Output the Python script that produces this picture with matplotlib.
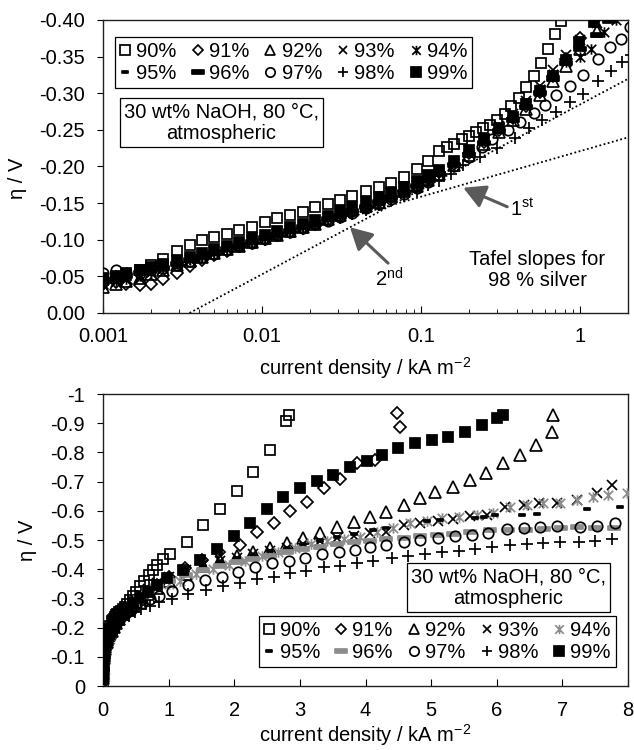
import matplotlib
matplotlib.use("Agg")
import matplotlib.pyplot as plt
from matplotlib.path import Path
from matplotlib.lines import Line2D
from matplotlib.ticker import FuncFormatter, LogLocator, NullFormatter, MultipleLocator

plt.rcParams['font.family'] = ['Liberation Sans', 'DejaVu Sans']
plt.rcParams['axes.unicode_minus'] = False
plt.rcParams['mathtext.fontset'] = 'custom'
plt.rcParams['mathtext.rm'] = 'Liberation Sans'
plt.rcParams['mathtext.default'] = 'regular'
FS = 14.5

labels = ["90%", "91%", "92%", "93%", "94%", "95%", "96%", "97%", "98%", "99%"]

# current density / kA m-2 -- shared log-spaced steps of the low current range
j_low = [0.0004, 0.0007, 0.001, 0.0012, 0.0014, 0.0017, 0.002, 0.0024, 0.0029, 0.0035,
         0.0042, 0.005, 0.006, 0.0072, 0.0087, 0.0104, 0.0125, 0.015, 0.018, 0.0216,
         0.026, 0.031, 0.037, 0.045, 0.054, 0.065, 0.078, 0.094, 0.11]

# |overpotential| / V on j_low
eta_low_90 = [0.022, 0.034, 0.045, 0.048, 0.052, 0.058, 0.066, 0.074, 0.084, 0.093, 0.099, 0.104, 0.108, 0.113, 0.118,
              0.124, 0.129, 0.134, 0.138, 0.144, 0.149, 0.154, 0.160, 0.167, 0.172, 0.178, 0.186, 0.196, 0.207]
eta_low_91 = [0.018, 0.028, 0.040, 0.042, 0.040, 0.038, 0.040, 0.046, 0.055, 0.064, 0.072, 0.079, 0.085, 0.091, 0.096,
              0.101, 0.106, 0.111, 0.116, 0.121, 0.127, 0.132, 0.138, 0.145, 0.151, 0.158, 0.166, 0.174, 0.183]
eta_low_92 = [0.015, 0.026, 0.036, 0.040, 0.044, 0.048, 0.053, 0.059, 0.065, 0.071, 0.077, 0.082, 0.087, 0.092, 0.097,
              0.102, 0.107, 0.112, 0.117, 0.122, 0.128, 0.134, 0.140, 0.146, 0.152, 0.159, 0.166, 0.174, 0.182]
eta_low_93 = [0.017, 0.029, 0.038, 0.042, 0.045, 0.049, 0.054, 0.060, 0.066, 0.072, 0.078, 0.083, 0.088, 0.093, 0.098,
              0.103, 0.108, 0.113, 0.118, 0.124, 0.130, 0.136, 0.142, 0.148, 0.155, 0.162, 0.170, 0.178, 0.186]
eta_low_94 = [0.020, 0.031, 0.040, 0.043, 0.047, 0.051, 0.056, 0.061, 0.067, 0.072, 0.077, 0.082, 0.087, 0.092, 0.097,
              0.102, 0.107, 0.112, 0.117, 0.122, 0.128, 0.134, 0.140, 0.146, 0.153, 0.160, 0.167, 0.175, 0.184]
eta_low_95 = [0.021, 0.032, 0.042, 0.045, 0.049, 0.053, 0.058, 0.063, 0.068, 0.073, 0.078, 0.083, 0.088, 0.093, 0.098,
              0.103, 0.108, 0.113, 0.118, 0.123, 0.129, 0.135, 0.141, 0.147, 0.153, 0.160, 0.167, 0.175, 0.183]
eta_low_96 = [0.023, 0.035, 0.044, 0.047, 0.050, 0.054, 0.058, 0.062, 0.067, 0.072, 0.077, 0.082, 0.087, 0.092, 0.097,
              0.102, 0.107, 0.112, 0.117, 0.122, 0.128, 0.133, 0.139, 0.145, 0.151, 0.158, 0.165, 0.173, 0.181]
eta_low_97 = [0.028, 0.040, 0.055, 0.058, 0.054, 0.055, 0.058, 0.062, 0.066, 0.071, 0.076, 0.081, 0.086, 0.091, 0.096,
              0.101, 0.106, 0.111, 0.116, 0.121, 0.126, 0.131, 0.137, 0.143, 0.149, 0.156, 0.163, 0.171, 0.179]
eta_low_98 = [0.024, 0.036, 0.047, 0.050, 0.053, 0.056, 0.060, 0.064, 0.068, 0.073, 0.077, 0.082, 0.086, 0.091, 0.096,
              0.100, 0.105, 0.110, 0.115, 0.120, 0.125, 0.130, 0.135, 0.141, 0.147, 0.153, 0.160, 0.167, 0.175]
eta_low_99 = [0.025, 0.037, 0.048, 0.051, 0.055, 0.059, 0.063, 0.067, 0.072, 0.077, 0.082, 0.087, 0.092, 0.097, 0.102,
              0.107, 0.112, 0.117, 0.122, 0.127, 0.133, 0.139, 0.145, 0.151, 0.158, 0.165, 0.172, 0.180, 0.188]

# high current range, own steps per alloy
j_hi_90 = [0.13, 0.145, 0.16, 0.18, 0.2, 0.22, 0.245, 0.27, 0.3, 0.335, 0.37, 0.41, 0.46, 0.51, 0.57,
           0.63, 0.7, 0.76, 0.82, 0.92, 1.02, 1.28, 1.53, 1.78, 2.04, 2.29, 2.55, 2.79, 2.83]
eta_hi_90 = [0.221, 0.226, 0.231, 0.237, 0.242, 0.247, 0.252, 0.257, 0.263, 0.272, 0.282, 0.294, 0.308, 0.323, 0.341,
             0.360, 0.381, 0.399, 0.415, 0.435, 0.451, 0.494, 0.551, 0.608, 0.669, 0.734, 0.808, 0.909, 0.928]
j_hi_91 = [0.13, 0.16, 0.2, 0.25, 0.31, 0.38, 0.46, 0.56, 0.68, 0.82, 1.0, 1.25, 1.51, 1.76, 2.09,
           2.34, 2.60, 2.85, 3.11, 3.36, 3.61, 3.87, 4.15, 4.53, 4.48]
eta_hi_91 = [0.192, 0.204, 0.219, 0.234, 0.250, 0.266, 0.283, 0.302, 0.323, 0.347, 0.375, 0.405, 0.432, 0.458, 0.483,
             0.528, 0.557, 0.600, 0.631, 0.677, 0.708, 0.765, 0.774, 0.888, 0.934]
j_hi_92 = [0.13, 0.16, 0.2, 0.25, 0.31, 0.38, 0.46, 0.56, 0.68, 0.82, 1.0, 1.27, 1.53, 1.78, 2.04, 2.29, 2.55, 2.80,
           3.05, 3.31, 3.56, 3.82, 4.07, 4.32, 4.58, 4.83, 5.06, 5.34, 5.59, 5.84, 6.09, 6.36, 6.60, 6.84, 6.86]
eta_hi_92 = [0.190, 0.202, 0.216, 0.231, 0.247, 0.263, 0.279, 0.297, 0.316, 0.337, 0.360, 0.385, 0.410, 0.432, 0.447,
             0.460, 0.472, 0.489, 0.508, 0.523, 0.546, 0.563, 0.580, 0.597, 0.620, 0.643, 0.665, 0.683, 0.705, 0.728,
             0.763, 0.791, 0.825, 0.871, 0.928]
j_hi_93 = [0.13, 0.16, 0.2, 0.25, 0.31, 0.38, 0.46, 0.56, 0.68, 0.82, 1.0, 1.27, 1.53, 1.78, 2.04, 2.29, 2.55, 2.80,
           3.05, 3.31, 3.56, 3.82, 4.07, 4.32, 4.58, 4.83, 5.11, 5.34, 5.59, 5.85, 6.13, 6.41, 6.64, 6.92, 7.22, 7.53, 7.75]
eta_hi_93 = [0.194, 0.207, 0.222, 0.238, 0.255, 0.272, 0.290, 0.310, 0.331, 0.352, 0.372, 0.396, 0.414, 0.428, 0.440,
             0.452, 0.462, 0.474, 0.486, 0.497, 0.506, 0.515, 0.523, 0.528, 0.551, 0.560, 0.566, 0.571, 0.582, 0.586,
             0.614, 0.620, 0.626, 0.626, 0.637, 0.660, 0.688]
j_hi_94 = [0.13, 0.16, 0.2, 0.25, 0.31, 0.38, 0.46, 0.56, 0.68, 0.82, 1.0, 1.17, 1.42, 1.67, 1.92, 2.17, 2.42, 2.67,
           2.92, 3.17, 3.42, 3.67, 3.92, 4.17, 4.42, 4.68, 4.93, 5.16, 5.42, 5.70, 5.95, 6.20, 6.46, 6.71, 6.97, 7.22,
           7.47, 7.70, 7.98]
eta_hi_94 = [0.193, 0.205, 0.220, 0.236, 0.252, 0.269, 0.287, 0.306, 0.326, 0.342, 0.350, 0.360, 0.383, 0.400, 0.415,
             0.428, 0.447, 0.460, 0.474, 0.485, 0.497, 0.505, 0.511, 0.527, 0.540, 0.557, 0.566, 0.574, 0.580, 0.586,
             0.591, 0.614, 0.620, 0.626, 0.628, 0.637, 0.648, 0.654, 0.660]
j_hi_95 = [0.13, 0.16, 0.2, 0.25, 0.31, 0.38, 0.46, 0.56, 0.68, 0.82, 1.0, 1.27, 1.53, 1.78, 2.04, 2.29, 2.55, 2.80,
           3.05, 3.31, 3.56, 3.82, 4.12, 4.32, 4.93, 5.14, 5.67, 5.80, 5.98, 6.38, 6.61, 7.37, 7.88]
eta_hi_95 = [0.191, 0.203, 0.218, 0.234, 0.250, 0.267, 0.285, 0.304, 0.325, 0.347, 0.368, 0.392, 0.410, 0.425, 0.438,
             0.450, 0.462, 0.474, 0.486, 0.498, 0.510, 0.522, 0.534, 0.540, 0.565, 0.568, 0.574, 0.578, 0.586, 0.586,
             0.589, 0.608, 0.614]
j_hi_96 = [0.13, 0.16, 0.2, 0.25, 0.31, 0.38, 0.46, 0.56, 0.68, 0.82, 1.0, 1.27, 1.53, 1.78, 2.04, 2.29, 2.55, 2.80,
           3.05, 3.31, 3.56, 3.82, 4.07, 4.32, 4.58, 4.83, 5.09, 5.34, 5.60, 5.90, 6.17, 6.45, 6.72, 6.98, 7.22, 7.50, 7.78]
eta_hi_96 = [0.190, 0.202, 0.216, 0.232, 0.248, 0.264, 0.281, 0.300, 0.320, 0.341, 0.360, 0.380, 0.398, 0.412, 0.424,
             0.436, 0.447, 0.458, 0.468, 0.477, 0.485, 0.492, 0.498, 0.503, 0.508, 0.513, 0.518, 0.522, 0.527, 0.534,
             0.534, 0.536, 0.538, 0.540, 0.546, 0.542, 0.540]
j_hi_97 = [0.13, 0.16, 0.2, 0.24, 0.28, 0.35, 0.42, 0.51, 0.60, 0.71, 0.86, 1.05, 1.30, 1.55, 1.81, 2.06, 2.32, 2.57,
           2.83, 3.08, 3.33, 3.59, 3.84, 4.07, 4.32, 4.58, 4.83, 5.11, 5.37, 5.62, 5.87, 6.15, 6.41, 6.66, 6.92, 7.27,
           7.53, 7.80]
eta_hi_97 = [0.188, 0.200, 0.213, 0.226, 0.238, 0.250, 0.261, 0.273, 0.284, 0.298, 0.310, 0.325, 0.347, 0.363, 0.374,
             0.391, 0.406, 0.420, 0.428, 0.437, 0.451, 0.458, 0.466, 0.477, 0.483, 0.494, 0.500, 0.506, 0.514, 0.517,
             0.523, 0.537, 0.542, 0.546, 0.548, 0.546, 0.548, 0.559]
j_hi_98 = [0.13, 0.155, 0.184, 0.235, 0.30, 0.39, 0.48, 0.58, 0.71, 0.86, 1.05, 1.30, 1.57, 1.83, 2.09, 2.34, 2.60,
           2.85, 3.10, 3.36, 3.61, 3.87, 4.12, 4.40, 4.65, 4.91, 5.16, 5.42, 5.67, 5.93, 6.20, 6.46, 6.71, 6.97, 7.25,
           7.50, 7.75]
eta_hi_98 = [0.180, 0.190, 0.202, 0.213, 0.225, 0.239, 0.252, 0.263, 0.275, 0.288, 0.299, 0.316, 0.330, 0.343, 0.352,
             0.365, 0.374, 0.386, 0.395, 0.406, 0.412, 0.420, 0.429, 0.437, 0.446, 0.452, 0.458, 0.463, 0.468, 0.475,
             0.483, 0.486, 0.489, 0.492, 0.494, 0.498, 0.502]
j_hi_99 = [0.13, 0.16, 0.2, 0.25, 0.31, 0.38, 0.46, 0.56, 0.68, 0.82, 0.98, 1.22, 1.48, 1.73, 1.99, 2.24, 2.50, 2.74,
           3.00, 3.26, 3.51, 3.77, 4.02, 4.25, 4.50, 4.76, 5.01, 5.26, 5.52, 5.77, 6.00, 6.10]
eta_hi_99 = [0.195, 0.207, 0.222, 0.237, 0.253, 0.268, 0.285, 0.303, 0.323, 0.345, 0.370, 0.397, 0.432, 0.468, 0.515,
             0.557, 0.605, 0.646, 0.677, 0.703, 0.723, 0.749, 0.772, 0.791, 0.814, 0.831, 0.842, 0.854, 0.871, 0.894,
             0.917, 0.928]

# Tafel fits for 98 % silver (end points, |eta| / V)
tafel1_j = [0.04, 2.1]
tafel1_eta = [0.134, 0.241]
tafel2_j = [0.0035, 2.1]
tafel2_eta = [0.0, 0.322]

eta_low = [eta_low_90, eta_low_91, eta_low_92, eta_low_93, eta_low_94,
           eta_low_95, eta_low_96, eta_low_97, eta_low_98, eta_low_99]
j_hi = [j_hi_90, j_hi_91, j_hi_92, j_hi_93, j_hi_94, j_hi_95, j_hi_96, j_hi_97, j_hi_98, j_hi_99]
eta_hi = [eta_hi_90, eta_hi_91, eta_hi_92, eta_hi_93, eta_hi_94,
          eta_hi_95, eta_hi_96, eta_hi_97, eta_hi_98, eta_hi_99]

# Excel-like marker shapes
star = Path([(-1, -1), (1, 1), (-1, 1), (1, -1), (0, -1.1), (0, 1.1)],
            [Path.MOVETO, Path.LINETO] * 3)
dash = Path([(-1, -0.3), (1, -0.3), (1, 0.3), (-1, 0.3), (-1, -0.3)],
            [Path.MOVETO, Path.LINETO, Path.LINETO, Path.LINETO, Path.CLOSEPOLY])

styles = [
    dict(marker='s', ms=7.5, mfc='none'),
    dict(marker='D', ms=6, mfc='none'),
    dict(marker='^', ms=8, mfc='none'),
    dict(marker='x', ms=7),
    dict(marker=star, ms=7.5),
    dict(marker=dash, ms=4.5, filled=True),
    dict(marker=dash, ms=9, filled=True),
    dict(marker='o', ms=7.5, mfc='none'),
    dict(marker='+', ms=8.5),
    dict(marker='s', ms=7.5, filled=True),
]


def series_style(k, gray):
    st = dict(styles[k])
    col = 'black'
    if gray and k in (4, 6):
        col = '#8c8c8c'
    filled = st.pop('filled', False)
    if filled:
        st['mfc'] = col
    st['mec'] = col
    st['color'] = col
    st['mew'] = 1.25
    return st


def draw_points(ax, gray):
    for k in range(10):
        j = j_low + j_hi[k]
        eta = eta_low[k] + eta_hi[k]
        ax.plot(j, [-v for v in eta], linestyle='none', zorder=3, **series_style(k, gray))


def add_legend(ax, gray, anchor, loc):
    handles = [Line2D([], [], linestyle='none', **series_style(k, gray)) for k in range(10)]
    order = [0, 5, 1, 6, 2, 7, 3, 8, 4, 9]
    leg = ax.legend([handles[i] for i in order], [labels[i] for i in order], ncol=5,
                    loc=loc, bbox_to_anchor=anchor, borderaxespad=0, fontsize=FS,
                    handlelength=0.5, handletextpad=0.3, columnspacing=0.8,
                    labelspacing=0.15, borderpad=0.25, fancybox=False, framealpha=1,
                    edgecolor='black', numpoints=1, markerscale=0.9)
    leg.get_frame().set_linewidth(0.9)
    leg.set_zorder(5)


def style_axes(ax, xpad):
    for s in ax.spines.values():
        s.set_linewidth(1.0)
        s.set_color('#202020')
    ax.tick_params(axis='x', which='both', direction='in', top=False, labelsize=FS, pad=xpad)
    ax.tick_params(axis='x', which='major', length=5)
    ax.tick_params(axis='x', which='minor', length=3)
    ax.tick_params(axis='y', direction='out', right=False, length=4, labelsize=FS, pad=9)


fig = plt.figure(figsize=(6.34, 7.5), dpi=100)
ax1 = fig.add_axes([0.1625, 0.5827, 0.828, 0.3907])
ax2 = fig.add_axes([0.1625, 0.0853, 0.828, 0.3893])

# ---- top: Tafel plot ----
ax1.set_xscale('log')
ax1.plot(tafel1_j, [-v for v in tafel1_eta], color='black', lw=1.3, ls=(0, (1, 1.4)), zorder=2)
ax1.plot(tafel2_j, [-v for v in tafel2_eta], color='black', lw=1.3, ls=(0, (1, 1.4)), zorder=2)
draw_points(ax1, gray=False)
ax1.set_xlim(0.001, 2)
ax1.set_ylim(0, -0.40)
ax1.set_yticks([0, -0.05, -0.10, -0.15, -0.20, -0.25, -0.30, -0.35, -0.40])
ax1.yaxis.set_major_formatter(FuncFormatter(lambda v, p: '%.2f' % v if abs(v) > 1e-9 else '0.00'))
ax1.xaxis.set_major_locator(LogLocator(base=10))
ax1.xaxis.set_minor_locator(LogLocator(base=10, subs=range(2, 10)))
ax1.xaxis.set_minor_formatter(NullFormatter())
ax1.xaxis.set_major_formatter(FuncFormatter(lambda v, p: '%g' % v))
style_axes(ax1, 10)
ax1.set_xlabel(r'current density / kA m$^{-2}$', fontsize=FS)
ax1.set_ylabel('η / V', fontsize=FS)
ax1.xaxis.set_label_coords(0.5, -0.145)
ax1.yaxis.set_label_coords(-0.145, 0.46)

add_legend(ax1, False, (0.023, 0.942), 'upper left')
ax1.text(0.2257, 0.650, '30 wt% NaOH, 80 °C,\natmospheric', transform=ax1.transAxes,
         ha='center', va='center', multialignment='center', fontsize=FS, zorder=5,
         bbox=dict(boxstyle='square,pad=0.2', fc='white', ec='black', lw=0.9))

arrow = dict(arrowstyle='-|>,head_length=0.7,head_width=0.38', color='#5a5a5a', lw=2.2,
             shrinkA=0, shrinkB=0, mutation_scale=19)
ax1.annotate('', xy=(0.184, -0.171), xytext=(0.348, -0.145), arrowprops=arrow, zorder=4)
ax1.annotate('', xy=(0.0357, -0.117), xytext=(0.062, -0.068), arrowprops=arrow, zorder=4)
ax1.text(0.36, -0.141, r'1$^{st}$', ha='left', va='center', fontsize=FS)
ax1.text(0.051, -0.046, r'2$^{nd}$', ha='left', va='center', fontsize=FS)
ax1.text(0.827, 0.147, 'Tafel slopes for\n98 % silver', transform=ax1.transAxes,
         ha='center', va='center', multialignment='center', fontsize=FS, linespacing=1.1)

# ---- bottom: linear plot ----
draw_points(ax2, gray=True)
ax2.set_xlim(0, 8)
ax2.set_ylim(0, -1)
ax2.xaxis.set_major_locator(MultipleLocator(1))
ax2.yaxis.set_major_locator(MultipleLocator(0.1))
ax2.yaxis.set_major_formatter(FuncFormatter(lambda v, p: '%g' % round(v, 2) if abs(v) > 1e-9 else '0'))
style_axes(ax2, 11)
ax2.set_xlabel(r'current density / kA m$^{-2}$', fontsize=FS)
ax2.set_ylabel('η / V', fontsize=FS)
ax2.xaxis.set_label_coords(0.5, -0.122)
ax2.yaxis.set_label_coords(-0.126, 0.5)

ax2.text(0.772, 0.336, '30 wt% NaOH, 80 °C,\natmospheric', transform=ax2.transAxes,
         ha='center', va='center', multialignment='center', fontsize=FS, zorder=5,
         bbox=dict(boxstyle='square,pad=0.2', fc='white', ec='black', lw=0.9))
add_legend(ax2, True, (0.977, 0.065), 'lower right')

fig.savefig('out.png', dpi=100)
